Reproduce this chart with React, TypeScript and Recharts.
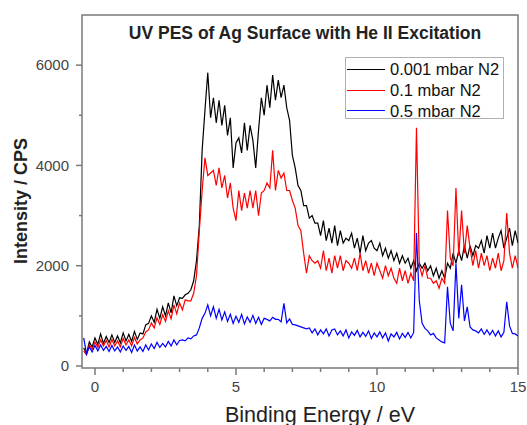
import { LineChart, Line, XAxis, YAxis, ReferenceArea, Legend } from 'recharts';

// binding energy grid: first sample and spacing (eV)
const energyStart = -0.4;
const energyStep = 0.1;

// intensity (CPS), one value per 0.1 eV from -0.4 to 15.0
const lowPressure = [
  360, 250, 480, 380, 560, 430, 640, 450, 590, 470,
  620, 470, 600, 460, 660, 500, 630, 490, 690, 530,
  660, 640, 820, 850, 1000, 870, 1130, 950, 1180, 1000,
  1260, 1060, 1400, 1200, 1360, 1350, 1420, 1450, 1520, 1700,
  2100, 2800, 4300, 5100, 5850, 4950, 5350, 4850, 5300, 4800,
  5200, 4600, 4950, 3950, 4450, 4550, 4250, 4850, 4300, 4800,
  4500, 3950, 4700, 5350, 5000, 5600, 5150, 5800, 5300, 5700,
  5350, 5600, 5150, 4900, 4200, 3950, 3600, 3500, 3200, 3200,
  2950, 3000, 2850, 2850, 2600, 2900, 2500, 2750, 2450, 2800,
  2400, 2700, 2450, 2550, 2500, 2650, 2350, 2550, 2250, 2600,
  2300, 2450, 2500, 2350, 2300, 2450, 2200, 2350, 2150, 2300,
  2100, 2250, 2050, 2200, 2050, 2150, 1950, 2100, 1900, 2050,
  1950, 2050, 1900, 2000, 1800, 1950, 1750, 1900, 1750, 2050,
  1950, 2250, 2050, 2300, 2100, 2400, 2150, 2400, 2200, 2400,
  2350, 2500, 2250, 2600, 2350, 2650, 2350, 2550, 2700, 2350,
  2550, 2750, 2400, 2700, 2450,
];

const midPressure = [
  300, 220, 420, 330, 480, 370, 520, 400, 510, 380,
  530, 400, 500, 380, 550, 420, 520, 400, 570, 440,
  520, 560, 680, 720, 860, 760, 960, 830, 1020, 890,
  1100, 940, 1220, 1040, 1260, 1120, 1320, 1300, 1300, 1450,
  1800, 2700, 3500, 4150, 3800, 3850, 3900, 3600, 3950, 3550,
  3800, 3350, 3650, 3150, 2900, 3500, 3100, 3450, 3150, 3500,
  3150, 3500, 3000, 3450, 3500, 3650, 3550, 4300, 3500, 3900,
  3750, 3850, 3500, 3500, 3300, 3150, 2800, 2700, 2250, 1850,
  2200, 2100, 2050, 2100, 1950, 2300, 1900, 2150, 1850, 2200,
  1950, 2200, 1900, 2100, 2050, 1950, 2150, 1900, 2250, 1900,
  2100, 1850, 2050, 1800, 2050, 1900, 1750, 2000, 1800, 1950,
  1750, 1650, 1950, 1700, 1900, 1650, 1850, 1700, 4750, 2000,
  1800, 2000, 1750, 1750, 1650, 1700, 1550, 1750, 1650, 3100,
  2150, 2000, 3550, 2200, 3100, 2250, 2800, 2350, 2000, 2300,
  1950, 2250, 2000, 2200, 1900, 2150, 1950, 2250, 1900, 2100,
  3050, 2250, 1950, 2200, 1950,
];

const highPressure = [
  560, 240, 380, 280, 410, 300, 420, 310, 390, 290,
  410, 300, 380, 280, 400, 310, 390, 270, 420, 300,
  380, 290, 420, 320, 440, 350, 470, 370, 450, 380,
  490, 400, 520, 420, 510, 520, 500, 560, 540, 600,
  620, 760, 950, 1050, 1220, 1000, 1180, 950, 1130, 920,
  1080, 890, 1030, 850, 990, 870, 1030, 840, 980, 870,
  1010, 850, 970, 830, 950, 930, 900, 970, 930, 930,
  880, 1250, 860, 940, 830, 820, 800, 780, 760, 740,
  760, 660, 740, 620, 720, 640, 740, 600, 720, 740,
  620, 700, 600, 720, 560, 680, 610, 710, 580, 670,
  590, 700, 550, 660, 580, 680, 560, 660, 500, 640,
  580, 670, 540, 650, 570, 670, 560, 670, 2650, 1300,
  850, 750, 700, 620, 650, 560, 520, 480, 460, 1580,
  850, 700, 2050, 950, 1620, 900, 1180, 780, 720, 700,
  660, 740, 630, 720, 620, 710, 600, 700, 580, 670,
  1280, 800, 650, 640, 600,
];

const seriesNames = ['0.001 mbar N2', '0.1 mbar N2', '0.5 mbar N2'];
const seriesColors = ['#000000', '#ff0000', '#0000ff'];

const xTicks = [0, 1, 2, 3, 4, 5, 6, 7, 8, 9, 10, 11, 12, 13, 14, 15];
const yTicks = [0, 1000, 2000, 3000, 4000, 5000, 6000];

const data = lowPressure.map((v, i) => ({
  energy: Number((energyStart + i * energyStep).toFixed(1)),
  low: v,
  mid: midPressure[i],
  high: highPressure[i],
}));

const FONT = '"Liberation Sans", Arial, sans-serif';
const AXIS = '#7a7a7a';

const XTick = ({ x, y, payload }: any) => {
  const major = payload.value % 5 === 0;
  return (
    <g>
      <line x1={x} x2={x} y1={y} y2={y + (major ? 7 : 4)} stroke={AXIS} strokeWidth={1.5} />
      {major && (
        <text x={x} y={y + 24} textAnchor="middle" fontSize={15} fontFamily={FONT} fill="#444">
          {payload.value}
        </text>
      )}
    </g>
  );
};

const YTick = ({ x, y, payload }: any) => {
  const major = payload.value % 2000 === 0;
  return (
    <g>
      <line x1={x - (major ? 6 : 3)} x2={x} y1={y} y2={y} stroke={AXIS} strokeWidth={1.5} />
      {major && (
        <text x={69} y={y + 5.3} textAnchor="end" fontSize={15} fontFamily={FONT} fill="#444">
          {payload.value}
        </text>
      )}
    </g>
  );
};

const renderLegend = () => (
  <div
    style={{
      width: 159,
      height: 62,
      boxSizing: 'border-box',
      border: '1px solid #b0b0b0',
      background: '#fff',
      paddingTop: 1,
      fontFamily: FONT,
      fontSize: 16.5,
      color: '#111',
    }}
  >
    {seriesNames.map((name, i) => (
      <div key={name} style={{ display: 'flex', alignItems: 'center', height: 20.7, paddingLeft: 1 }}>
        <span style={{ display: 'inline-block', width: 38, borderTop: `1.5px solid ${seriesColors[i]}` }} />
        <span style={{ marginLeft: 5, lineHeight: '20px' }}>{name}</span>
      </div>
    ))}
  </div>
);

export default function App() {
  return (
    <div style={{ position: 'absolute', left: 0, top: 0, width: 527, height: 425, background: '#fff' }}>
      <LineChart width={527} height={425} data={data} margin={{ top: 15, right: 9, bottom: 0, left: 0 }}>
        <XAxis
          dataKey="energy"
          type="number"
          domain={[-0.46, 15]}
          ticks={xTicks}
          interval={0}
          allowDataOverflow
          height={57}
          axisLine={false}
          tickLine={false}
          tickSize={0}
          tickMargin={0}
          tick={<XTick />}
          label={{
            value: 'Binding Energy / eV',
            content: () => (
              <text x={320} y={422} textAnchor="middle" fontSize={21.5} fontFamily={FONT} fill="#222">
                Binding Energy / eV
              </text>
            ),
          }}
        />
        <YAxis
          type="number"
          domain={[-40, 7000]}
          ticks={yTicks}
          interval={0}
          allowDataOverflow
          width={82}
          axisLine={false}
          tickLine={false}
          tickSize={0}
          tickMargin={0}
          tick={<YTick />}
          label={{
            value: 'Intensity / CPS',
            content: () => (
              <text
                x={27}
                y={201}
                transform="rotate(-90, 27, 201)"
                textAnchor="middle"
                fontSize={18}
                fontWeight="bold"
                fontFamily={FONT}
                fill="#222"
              >
                Intensity / CPS
              </text>
            ),
          }}
        />
        <Line dataKey="low" name={seriesNames[0]} stroke={seriesColors[0]} strokeWidth={1.2} dot={false} isAnimationActive={false} />
        <Line dataKey="mid" name={seriesNames[1]} stroke={seriesColors[1]} strokeWidth={1.2} dot={false} isAnimationActive={false} />
        <Line dataKey="high" name={seriesNames[2]} stroke={seriesColors[2]} strokeWidth={1.2} dot={false} isAnimationActive={false} />
        <ReferenceArea
          x1={-0.46}
          x2={15}
          y1={-40}
          y2={7000}
          fill="none"
          fillOpacity={0}
          stroke={AXIS}
          strokeWidth={1.5}
          strokeOpacity={1}
          label={{
            value: 'UV PES of Ag Surface with He II Excitation',
            content: () => (
              <text x={305} y={38.7} textAnchor="middle" fontSize={17.5} fontWeight="bold" fontFamily={FONT} fill="#222">
                UV PES of Ag Surface with He II Excitation
              </text>
            ),
          }}
        />
        <Legend
          layout="vertical"
          align="center"
          verticalAlign="middle"
          content={renderLegend}
          wrapperStyle={{ position: 'absolute', left: 345, top: 57, width: 159, height: 62 }}
        />
      </LineChart>
    </div>
  );
}
